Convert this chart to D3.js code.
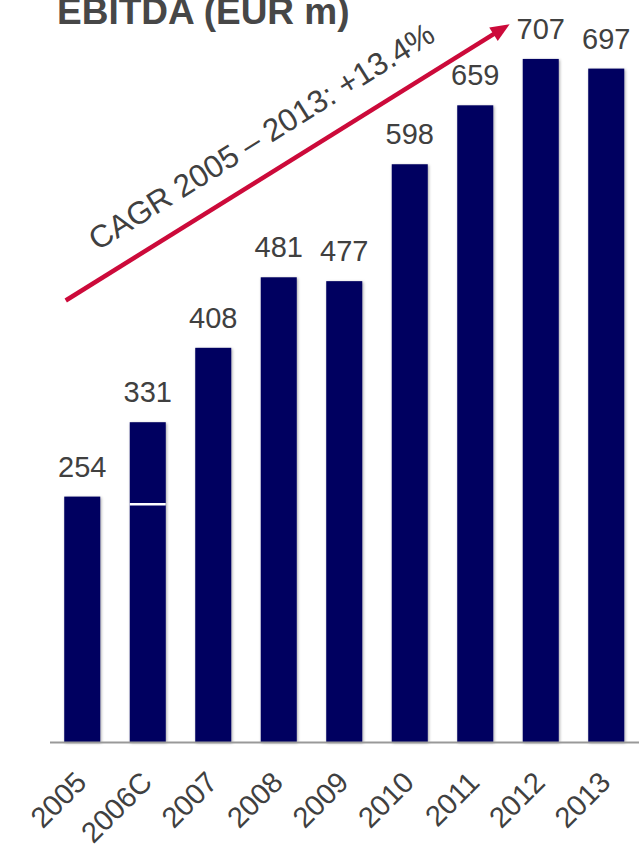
<!DOCTYPE html>
<html>
<head>
<meta charset="utf-8">
<script src="https://cdn.jsdelivr.net/npm/d3@7"></script>
<style>
  html, body { margin: 0; padding: 0; background: #fff; overflow: hidden; }
  svg { display: block; font-family: "Liberation Sans", Arial, sans-serif; }
</style>
</head>
<body>
<svg id="chart" width="639" height="849"></svg>
<script>
// EBITDA by year, EUR m
const categories = ["2005", "2006C", "2007", "2008", "2009", "2010", "2011", "2012", "2013"];
const ebitda = [254, 331, 408, 481, 477, 598, 659, 707, 697];
// 2006C is shown in two parts; the divider sits at this value
const splitValues = [null, 246, null, null, null, null, null, null, null];
const titleText = "EBITDA (EUR m)";
const cagrText = "CAGR 2005 \u2013 2013: +13.4%";
// growth arrow runs from the 2005 column to the 2012 column (category, value)
const trendFrom = ["2005", 457];
const trendTo = ["2012", 743];

const W = 639, H = 849;
const baseY = 742;
const barColor = "#000060";
const textColor = "#404040";
const arrowColor = "#cc0a3a";

const svg = d3.select("#chart");

const defs = svg.append("defs");
const shadow = defs.append("filter").attr("id", "barShadow")
  .attr("x", "-30%").attr("y", "-10%").attr("width", "160%").attr("height", "120%");
shadow.append("feDropShadow")
  .attr("dx", 1).attr("dy", 1).attr("stdDeviation", 1.6)
  .attr("flood-color", "#000").attr("flood-opacity", 0.35);

const x = d3.scaleBand()
  .domain(categories)
  .range([49.5, W])
  .paddingInner(0.45)
  .paddingOuter(0.225);

const y = d3.scaleLinear()
  .domain([0, 768])
  .range([baseY, 0]);

const rows = categories.map((c, i) => ({ cat: c, value: ebitda[i], split: splitValues[i] }));

// title (sits partly above the top edge)
svg.append("text")
  .attr("x", 57).attr("y", 24)
  .attr("font-size", 37).attr("font-weight", "bold")
  .attr("fill", "#474747")
  .text(titleText);

// bars
const bars = svg.append("g").attr("class", "bars");
bars.selectAll("rect.bar")
  .data(rows)
  .join("rect")
  .attr("class", "bar")
  .attr("x", d => x(d.cat))
  .attr("width", x.bandwidth())
  .attr("y", d => y(d.value))
  .attr("height", d => y(0) - y(d.value))
  .attr("fill", barColor)
  .attr("filter", "url(#barShadow)");

// divider inside split bars
bars.selectAll("line.split")
  .data(rows.filter(d => d.split != null))
  .join("line")
  .attr("class", "split")
  .attr("x1", d => x(d.cat))
  .attr("x2", d => x(d.cat) + x.bandwidth())
  .attr("y1", d => y(d.split))
  .attr("y2", d => y(d.split))
  .attr("stroke", "#fff")
  .attr("stroke-width", 2.5);

// value labels
svg.append("g").selectAll("text")
  .data(rows)
  .join("text")
  .attr("x", d => x(d.cat) + x.bandwidth() / 2)
  .attr("y", d => y(d.value) - 20)
  .attr("text-anchor", "middle")
  .attr("font-size", 29)
  .attr("fill", textColor)
  .text(d => d.value);

// category axis
const axis = svg.append("g")
  .attr("transform", `translate(0,${baseY})`)
  .call(d3.axisBottom(x).tickSize(0).tickSizeOuter(0));
axis.select(".domain").attr("stroke", "#999").attr("stroke-width", 2);
axis.selectAll(".tick text")
  .attr("x", 0).attr("y", 0).attr("dy", 0)
  .attr("text-anchor", "end")
  .attr("transform", "translate(6,42) rotate(-45)")
  .attr("font-size", 29)
  .attr("font-family", "Liberation Sans, Arial, sans-serif")
  .attr("fill", textColor);

// growth arrow
const ax0 = x(trendFrom[0]) + 1.5, ay0 = y(trendFrom[1]);
const ax1 = x(trendTo[0]) - x.step() * 0.2, ay1 = y(trendTo[1]);
const ang = Math.atan2(ay1 - ay0, ax1 - ax0);
const headLen = 19, headHalf = 8;
const bx = ax1 - headLen * Math.cos(ang), by = ay1 - headLen * Math.sin(ang);
const nx = -Math.sin(ang), ny = Math.cos(ang);
const arrow = svg.append("g");
arrow.append("line")
  .attr("x1", ax0).attr("y1", ay0)
  .attr("x2", bx + 2 * Math.cos(ang)).attr("y2", by + 2 * Math.sin(ang))
  .attr("stroke", arrowColor).attr("stroke-width", 4.5);
arrow.append("path")
  .attr("d", `M${ax1},${ay1} L${bx + nx * headHalf},${by + ny * headHalf} L${bx - nx * headHalf},${by - ny * headHalf} Z`)
  .attr("fill", arrowColor);

// CAGR caption along the arrow
const deg = ang * 180 / Math.PI;
const len = Math.hypot(ax1 - ax0, ay1 - ay0);
const along = len / 2 - 8.6, lift = 25;
const cx = ax0 + along * Math.cos(ang) + lift * Math.sin(ang);
const cy = ay0 + along * Math.sin(ang) - lift * Math.cos(ang);
svg.append("text")
  .attr("transform", `translate(${cx},${cy}) rotate(${deg})`)
  .attr("text-anchor", "middle")
  .attr("font-size", 31.5)
  .attr("fill", textColor)
  .text(cagrText);
</script>
</body>
</html>
